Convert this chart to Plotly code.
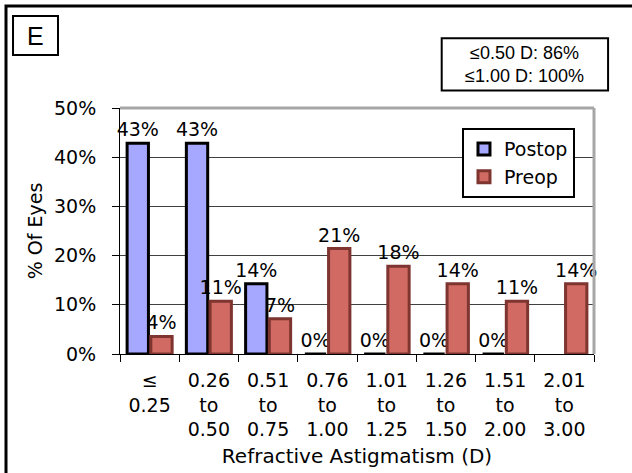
import plotly.graph_objects as go

categories = ["≤<br>0.25", "0.26<br>to<br>0.50", "0.51<br>to<br>0.75", "0.76<br>to<br>1.00",
              "1.01<br>to<br>1.25", "1.26<br>to<br>1.50", "1.51<br>to<br>2.00", "2.01<br>to<br>3.00"]
postop = [42.86, 42.86, 14.29, 0, 0, 0, 0, None]
preop = [3.57, 10.71, 7.14, 21.43, 17.86, 14.29, 10.71, 14.29]
y_ticks = [0, 10, 20, 30, 40, 50]
y_ticklabels = ["0%", "10%", "20%", "30%", "40%", "50%"]
summary_lines = ["≤0.50 D: 86%", "≤1.00 D: 100%"]
panel_label = "E"

FONT = "DejaVu Sans, Verdana, sans-serif"
FS = 19

def labels(vals):
    return [None if v is None else f"{round(v):d}%" for v in vals]

fig = go.Figure()
fig.add_trace(go.Bar(
    x=categories, y=postop, name="Postop",
    marker=dict(color="#A6A8FF", line=dict(color="#000000", width=3)),
    text=labels(postop), textposition="outside", cliponaxis=False, constraintext="none",
    textfont=dict(family=FONT, size=FS, color="#000"),
    legendgroup="a",
))
fig.add_trace(go.Bar(
    x=categories, y=preop, name="Preop",
    marker=dict(color="#D06A62", line=dict(color="#7E3530", width=3)),
    text=labels(preop), textposition="outside", cliponaxis=False, constraintext="none",
    textfont=dict(family=FONT, size=FS, color="#000"),
    legendgroup="b",
))

fig.update_layout(
    width=632, height=473,
    margin=dict(l=120, r=38, t=108, b=119),
    paper_bgcolor="white", plot_bgcolor="white",
    barmode="group", bargap=0.2, bargroupgap=0.1,
    font=dict(family=FONT, size=FS, color="#000"),
    legend=dict(
        x=0.7215, y=0.918, xanchor="left", yanchor="top",
        bgcolor="white", bordercolor="#000", borderwidth=2,
        font=dict(family=FONT, size=FS),
        traceorder="grouped", tracegroupgap=0, itemwidth=30,
    ),
    xaxis=dict(
        automargin=False,
        showline=True, linecolor="#000", linewidth=1,
        ticks="outside", ticklen=7, tickcolor="#000", tickson="boundaries",
        ticklabelstandoff=9,
        tickfont=dict(family=FONT, size=FS),
        title=dict(text="Refractive Astigmatism (D)", font=dict(family=FONT, size=20), standoff=9),
    ),
    yaxis=dict(
        automargin=False,
        range=[0, 50], tickvals=y_ticks, ticktext=y_ticklabels,
        showline=True, linecolor="#000", linewidth=1,
        ticks="outside", ticklen=7, tickcolor="#000", ticklabelstandoff=12,
        showgrid=True, gridcolor="#404040", gridwidth=1,
        tickfont=dict(family=FONT, size=FS),
        title=dict(text="% Of Eyes", font=dict(family=FONT, size=FS), standoff=6),
        zeroline=False,
    ),
    shapes=[
        dict(type="line", xref="paper", yref="paper", x0=0, x1=1, y0=1, y1=1,
             line=dict(color="#A6A6A6", width=3)),
        dict(type="line", xref="paper", yref="paper", x0=1, x1=1, y0=0, y1=1,
             line=dict(color="#A6A6A6", width=3)),
        dict(type="rect", xref="paper", yref="paper", x0=-0.2405, x1=1.2, y0=-0.6, y1=1.4146,
             line=dict(color="#000", width=3)),
        dict(type="rect", xref="paper", yref="paper", x0=-0.2257, x1=-0.1308, y0=1.2154, y1=1.374,
             line=dict(color="#000", width=2)),
        dict(type="rect", xref="paper", yref="paper", x0=0.6787, x1=1.0297, y0=1.0707, y1=1.2833,
             line=dict(color="#000", width=2)),
    ],
    annotations=[
        dict(text=panel_label, xref="paper", yref="paper", x=-0.1783, y=1.2947,
             showarrow=False, xanchor="center", yanchor="middle",
             font=dict(family="Liberation Sans, Arial, sans-serif", size=25)),
        dict(text="<br>".join(summary_lines), xref="paper", yref="paper", x=0.8542, y=1.177,
             showarrow=False, xanchor="center", yanchor="middle", align="center",
             font=dict(family="Liberation Sans, Arial, sans-serif", size=18)),
    ],
)

fig.write_html("out.html", config={"displayModeBar": False},
               post_script="document.body.style.margin='0';document.body.style.overflow='hidden';")
